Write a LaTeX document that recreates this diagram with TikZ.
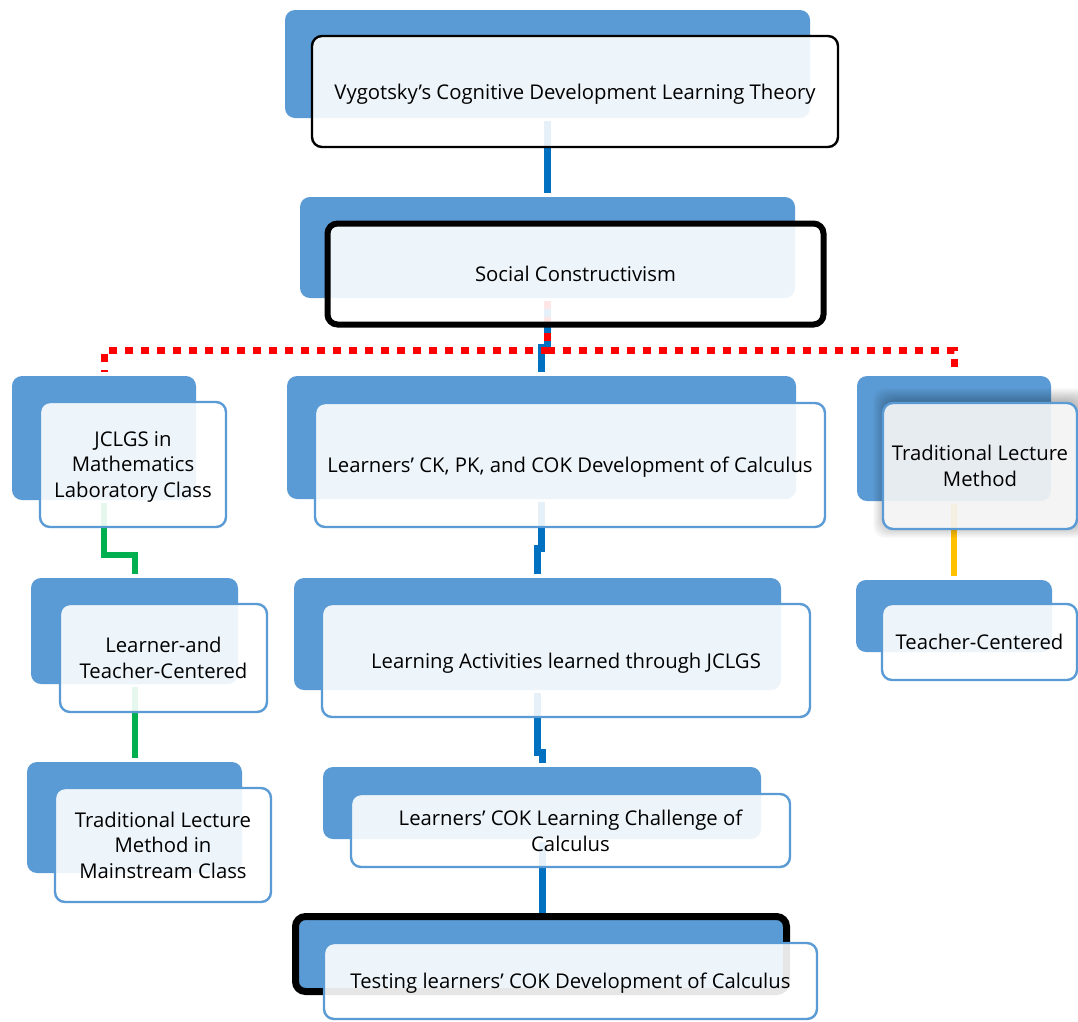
\documentclass[tikz,border=0pt]{standalone}
\usepackage{fontspec}
\setmainfont{Open Sans}
\usetikzlibrary{calc}
\definecolor{bk}{HTML}{5B9BD5}
\definecolor{cblue}{HTML}{0070C0}
\definecolor{cgreen}{HTML}{00B050}
\definecolor{cyellow}{HTML}{FFC000}
\definecolor{cred}{HTML}{FF0000}
\begin{document}
\begin{tikzpicture}[x=1pt,y=-1pt,
  back/.style={rectangle, fill=bk, rounded corners=10pt, inner sep=0pt, outer sep=0pt},
  front/.style={rectangle, draw=bk, line width=2.4pt, fill=white, fill opacity=0.9, text opacity=1, rounded corners=10pt, inner sep=0pt, outer sep=0pt, align=center, text depth=0pt, font=\fontsize{20.3}{25.6}\selectfont, text=black},
  conn/.style={line width=7pt, shorten <=3pt, shorten >=4pt},
]
\fill[white] (0,0) rectangle (1078,1021);
\useasboundingbox (0,0) rectangle (1078,1021);

% back boxes
\node[back, minimum width=525pt, minimum height=108pt] (b1) at (547.5,64) {};
\node[back, minimum width=495pt, minimum height=101pt] (b2) at (547.5,247.5) {};
\node[back, minimum width=184pt, minimum height=124pt] (b3) at (104,438) {};
\node[back, minimum width=207pt, minimum height=106pt] (b4) at (134.5,631) {};
\node[back, minimum width=215pt, minimum height=111pt] (b5) at (134.5,817.5) {};
\node[back, minimum width=509pt, minimum height=123pt] (b6) at (541.5,437.5) {};
\node[back, minimum width=487pt, minimum height=112pt] (b7) at (537.5,634) {};
\node[back, minimum width=438pt, minimum height=72pt] (b8) at (542,803) {};
\node[back, draw=black, line width=7pt, minimum width=491pt, minimum height=75pt] (b9) at (541,954) {};
\node[back, minimum width=194pt, minimum height=125pt] (b10) at (954,438.5) {};
\node[back, minimum width=196pt, minimum height=72pt] (b11) at (954,616) {};

% connectors
\draw[conn, cblue] (b1.south) -- (b2.north);
\draw[conn, cblue] (b2.south) -- ++(0,49) -| (b6.north);
\draw[line width=7pt, cred, dash pattern=on 8pt off 8pt, shorten <=3pt, shorten >=4pt] (b2.south) -- ++(0,52) -| (b3.north);
\draw[line width=7pt, cred, dash pattern=on 8pt off 8pt, shorten <=3pt, shorten >=4pt] (b2.south) -- ++(0,52) -| (b10.north);
\draw[conn, cgreen, line width=6pt] (b3.south) -- ++(0,55) -| (b4.north);
\draw[conn, cgreen, line width=6pt] (b4.south) -- (b5.north);
\draw[conn, cblue] (b6.south) -- ++(0,49) -| (b7.north);
\draw[conn, cblue] (b7.south) -- ++(0,62) -| (b8.north);
\draw[conn, cblue] (b8.south) -- (b8.south |- b9.north);
\draw[conn, cyellow, line width=6pt] (b10.south) -- (b11.north);

% soft shadow of the right front box
\coordinate (s10) at (982,463);
\foreach \i in {1,...,13} {
  \fill[black, fill opacity=0.02, rounded corners=12pt] ($(s10)+(-96-\i,-62-\i)$) rectangle ($(s10)+(96+\i,62+\i)$);
}

% front boxes
\node[front, draw=black, minimum width=526pt, minimum height=111pt] (f1) at (575,91.5) {Vygotsky’s Cognitive Development Learning Theory};
\node[front, draw=black, line width=6pt, minimum width=496pt, minimum height=101pt] (f2) at (575.5,274) {Social Constructivism};
\node[front, minimum width=186pt, minimum height=125pt] (f3) at (133,464.5) {JCLGS in\\Mathematics\\Laboratory Class};
\node[front, minimum width=207pt, minimum height=108pt] (f4) at (163.5,658) {Learner-and\\Teacher-Centered};
\node[front, minimum width=216pt, minimum height=114pt] (f5) at (163,845) {Traditional Lecture\\Method in\\Mainstream Class};
\node[front, minimum width=510pt, minimum height=124pt] (f6) at (570,465) {Learners’ CK, PK, and COK Development of Calculus};
\node[front, minimum width=488pt, minimum height=113pt] (f7) at (566,660.5) {Learning Activities learned through JCLGS};
\node[front, minimum width=439pt, minimum height=73pt] (f8) at (570.5,830.5) {Learners’ COK Learning Challenge of\\Calculus};
\node[front, minimum width=493pt, minimum height=76pt] (f9) at (570.5,981) {Testing learners’ COK Development of Calculus};
\node[front, fill=white!98!black, minimum width=194pt, minimum height=126pt] (f10) at (980,466) {Traditional Lecture\\Method};
\node[front, minimum width=195pt, minimum height=76pt] (f11) at (979.5,642) {Teacher-Centered};
\end{tikzpicture}
\end{document}
